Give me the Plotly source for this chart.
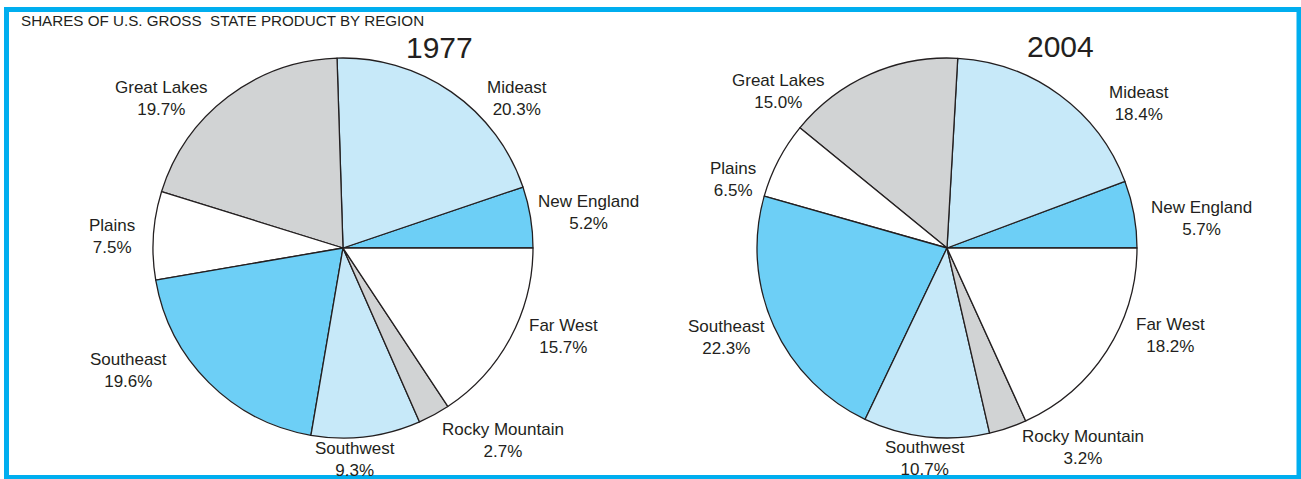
import plotly.graph_objects as go

# ---- data ----
regions = ["New England", "Mideast", "Great Lakes", "Plains",
           "Southeast", "Southwest", "Rocky Mountain", "Far West"]
shares_1977 = [5.2, 20.3, 19.7, 7.5, 19.6, 9.3, 2.7, 15.7]
shares_2004 = [5.7, 18.4, 15.0, 6.5, 22.3, 10.7, 3.2, 18.2]
years = ["1977", "2004"]
title_text = "SHARES OF U.S. GROSS\u00a0 STATE PRODUCT BY REGION"

# ---- style / layout ----
W, H = 1301, 479
CYAN = "#6dcff6"
LIGHT = "#c7e9f9"
GRAY = "#d1d3d4"
WHITE = "#ffffff"
INK = "#231f20"
slice_colors = [CYAN, LIGHT, GRAY, WHITE, CYAN, LIGHT, GRAY, WHITE]
FONT = "Liberation Sans, Arial, sans-serif"

pie_centers = [(343, 248), (947, 248)]   # pixels
pie_radius = 190
year_pos = [(439, 48), (1060, 46)]
# label block centres (pixels), one per region, in the order of `regions`
label_pos_1977 = [(588, 212), (517, 98), (161, 98), (112, 236),
                  (128, 370), (355, 459), (503, 440), (563, 336)]
label_pos_2004 = [(1201, 218), (1139, 103), (778, 91), (733, 179),
                  (727, 337), (925, 458), (1083, 447), (1170, 335)]


def px(x):
    return x / W


def py(y):
    return 1 - y / H


fig = go.Figure()
annotations = []
for (cx, cy), vals, year, ypos, lpos in zip(
        pie_centers, [shares_1977, shares_2004], years, year_pos,
        [label_pos_1977, label_pos_2004]):
    # first slice (New England) should start at 3 o'clock and go counterclockwise;
    # plotly ends the first counterclockwise slice at `rotation`.
    rot = 90 - 360.0 * vals[0] / sum(vals)
    fig.add_trace(go.Pie(
        labels=regions, values=vals, sort=False,
        direction="counterclockwise", rotation=rot,
        marker=dict(colors=slice_colors, line=dict(color=INK, width=1.3)),
        textinfo="none", hoverinfo="label+value", showlegend=False,
        domain=dict(x=[px(cx - pie_radius), px(cx + pie_radius)],
                    y=[py(cy + pie_radius), py(cy - pie_radius)]),
    ))
    annotations.append(dict(
        text=year, x=px(ypos[0]), y=py(ypos[1]), xref="paper", yref="paper",
        xanchor="center", yanchor="middle", showarrow=False,
        font=dict(family=FONT, size=30, color=INK)))
    for name, v, (lx, ly) in zip(regions, vals, lpos):
        annotations.append(dict(
            text=f"{name}<br>{v:.1f}%", x=px(lx), y=py(ly),
            xref="paper", yref="paper", xanchor="center", yanchor="middle",
            showarrow=False, align="center",
            font=dict(family=FONT, size=17, color=INK)))

annotations.append(dict(
    text=title_text, x=px(19), y=py(21), xref="paper", yref="paper",
    xanchor="left", yanchor="middle", showarrow=False,
    font=dict(family="Liberation Sans Narrow, Arial Narrow, Liberation Sans, sans-serif",
              size=15.2, color=INK)))

fig.update_layout(
    width=W, height=H,
    margin=dict(l=0, r=0, t=0, b=0),
    paper_bgcolor="white", plot_bgcolor="white",
    annotations=annotations,
    shapes=[dict(type="rect", xref="paper", yref="paper",
                 x0=px(6.5), x1=px(1299), y0=py(477.5), y1=py(9.5),
                 line=dict(color="#00aeef", width=5), fillcolor="rgba(0,0,0,0)")],
)

fig.write_html("out.html", config={"displayModeBar": False})

# remove the browser's default body margin so the figure fills the window
with open("out.html", encoding="utf-8") as f:
    html = f.read()
html = html.replace("<head>", "<head><style>html,body{margin:0;padding:0;overflow:hidden;}</style>", 1)
with open("out.html", "w", encoding="utf-8") as f:
    f.write(html)
